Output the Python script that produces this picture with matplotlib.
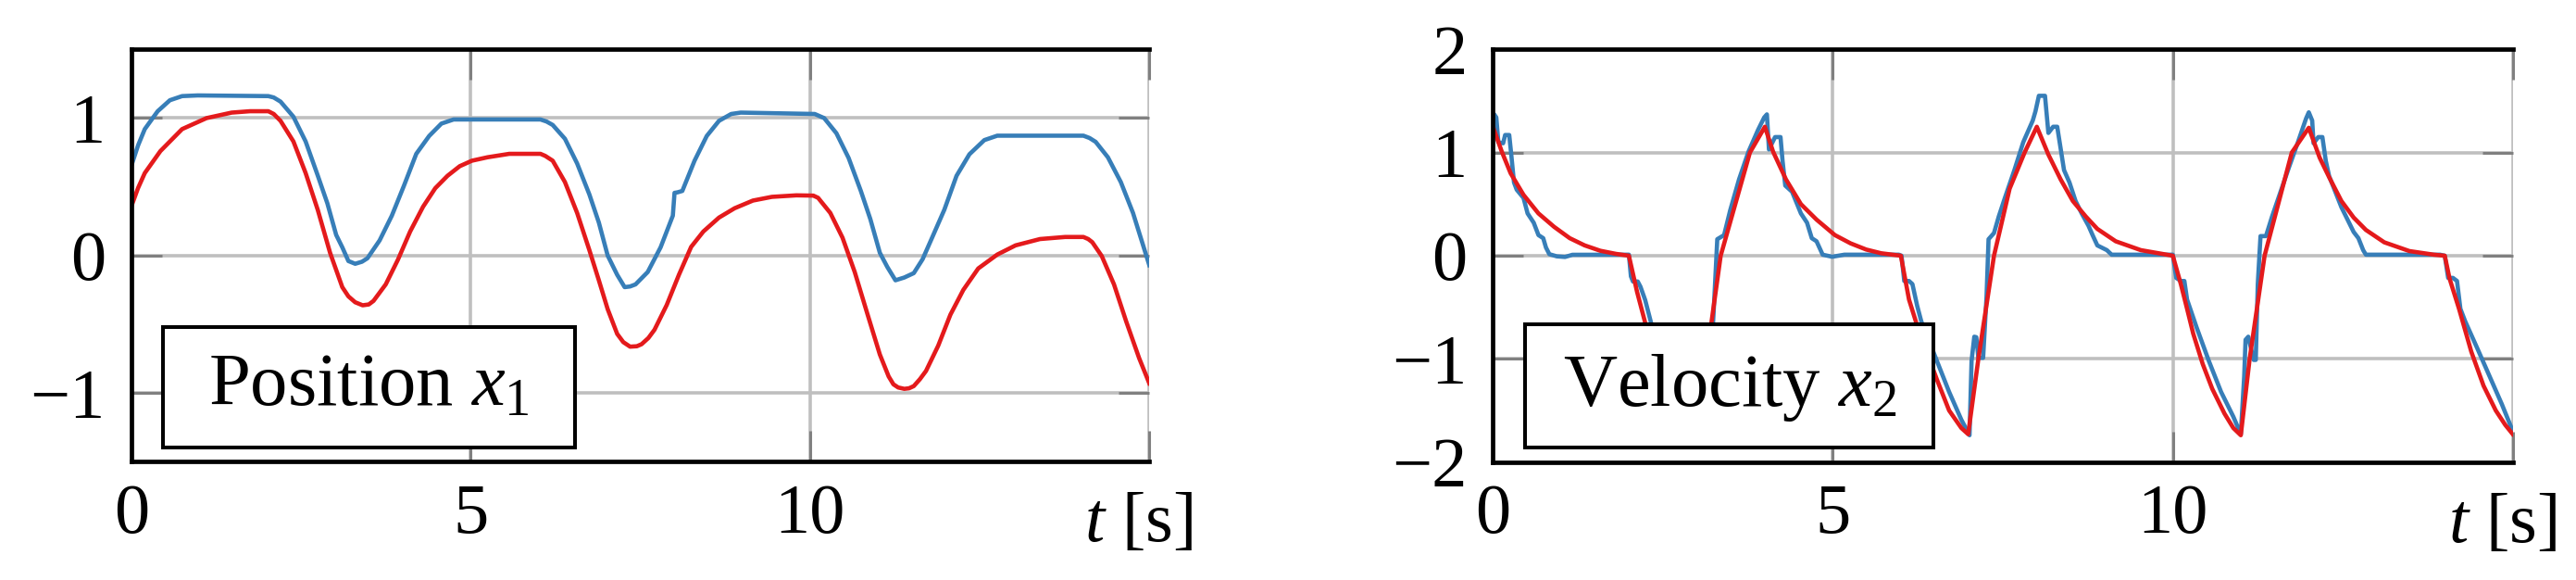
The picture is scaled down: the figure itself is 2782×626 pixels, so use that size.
import matplotlib
matplotlib.use('Agg')
import matplotlib.pyplot as plt
from matplotlib.patches import Rectangle

plt.rcParams['font.family'] = ['Liberation Serif', 'DejaVu Serif']
plt.rcParams['mathtext.fontset'] = 'custom'
plt.rcParams['mathtext.rm'] = 'Liberation Serif'
plt.rcParams['mathtext.it'] = 'Liberation Serif:italic'
plt.rcParams['axes.unicode_minus'] = True

# ---------------- data ----------------
# Position x1 (blue)
t_pos_blue = [0.0, 0.1, 0.2, 0.39, 0.57, 0.75, 0.98, 2.02, 2.1, 2.2, 2.39, 2.57, 2.75, 2.89,
              3.02, 3.11, 3.2, 3.3, 3.4, 3.48, 3.66, 3.84, 4.02, 4.2, 4.39, 4.57, 4.75, 5.02,
              6.03, 6.12, 6.21, 6.39, 6.57, 6.75, 6.89, 7.02, 7.16, 7.27, 7.35, 7.43, 7.61, 7.8, 7.98,
              8.005, 8.05, 8.12, 8.3, 8.48, 8.66, 8.84, 8.98, 10.07, 10.21, 10.39, 10.57,
              10.75, 10.89, 11.03, 11.14, 11.26, 11.39, 11.53, 11.66, 11.8, 11.98, 12.16,
              12.35, 12.57, 12.76, 14.03, 14.12, 14.21, 14.39, 14.58, 14.76, 15.0]
pos_blue = [0.65, 0.80, 0.92, 1.05, 1.13, 1.16, 1.165, 1.16, 1.15, 1.12, 1.01, 0.83, 0.58, 0.38,
            0.15, 0.06, -0.04, -0.06, -0.045, -0.02, 0.11, 0.29, 0.51, 0.74, 0.87, 0.96, 0.99, 0.99,
            0.99, 0.975, 0.95, 0.85, 0.67, 0.445, 0.24, 0.0, -0.14, -0.23, -0.225, -0.21, -0.12, 0.06, 0.29,
            0.456, 0.46, 0.47, 0.69, 0.87, 0.98, 1.03, 1.04, 1.03, 1.0, 0.89, 0.71,
            0.47, 0.265, 0.02, -0.083, -0.18, -0.16, -0.128, -0.027, 0.13, 0.333, 0.58,
            0.737, 0.84, 0.872, 0.872, 0.855, 0.827, 0.715, 0.535, 0.31, -0.07]

# Position x1 (red)
t_pos_red = [0.0, 0.1, 0.2, 0.43, 0.75, 1.11, 1.48, 1.75, 2.02, 2.1, 2.2, 2.39, 2.57, 2.75, 2.93,
             3.11, 3.2, 3.3, 3.41, 3.5, 3.57, 3.66, 3.75, 3.93, 4.11, 4.3, 4.48, 4.66, 4.84, 5.02, 5.25,
             5.57, 6.03, 6.1, 6.21, 6.39, 6.57, 6.75, 6.89, 7.02, 7.16, 7.25, 7.35, 7.45, 7.52, 7.62, 7.71,
             7.89, 8.07, 8.25, 8.43, 8.66, 8.89, 9.16, 9.44, 9.8, 10.05, 10.12, 10.3,
             10.48, 10.66, 10.85, 11.03, 11.16, 11.23, 11.3, 11.39, 11.46, 11.53, 11.62, 11.71, 11.89, 12.07,
             12.26, 12.48, 12.76, 13.03, 13.39, 13.76, 14.03, 14.1, 14.16, 14.3, 14.48, 14.66,
             14.85, 15.0]
pos_red = [0.355, 0.49, 0.60, 0.76, 0.92, 1.0, 1.04, 1.05, 1.05, 1.03, 0.98, 0.83, 0.60, 0.33, 0.02,
           -0.23, -0.297, -0.34, -0.362, -0.356, -0.33, -0.27, -0.21, -0.03, 0.175, 0.355, 0.49, 0.58, 0.65, 0.69, 0.715,
           0.74, 0.74, 0.725, 0.69, 0.535, 0.31, 0.04, -0.18, -0.39, -0.57, -0.63, -0.663, -0.66, -0.645, -0.6, -0.54,
           -0.36, -0.14, 0.063, 0.175, 0.276, 0.344, 0.40, 0.427, 0.438, 0.436, 0.42, 0.31,
           0.13, -0.12, -0.43, -0.72, -0.88, -0.937, -0.96, -0.97, -0.966, -0.95, -0.9, -0.84, -0.656, -0.43,
           -0.25, -0.094, 0.007, 0.074, 0.12, 0.135, 0.135, 0.12, 0.097, -0.004, -0.21, -0.48,
           -0.746, -0.93]

# Velocity x2 (blue)
t_vel_blue = [0.0, 0.02, 0.05, 0.08, 0.15, 0.18, 0.24, 0.27, 0.31, 0.35, 0.45, 0.51, 0.6,
              0.67, 0.74, 0.78, 0.83, 0.94, 1.06, 1.17, 2.0, 2.03, 2.06, 2.13, 2.17, 2.24,
              2.33, 2.5, 2.7, 2.88, 3.0, 3.03, 3.07, 3.10, 3.13, 3.21, 3.25, 3.30, 3.40,
              3.49, 3.62, 3.76, 3.9, 3.99, 4.03, 4.06, 4.15, 4.23, 4.26, 4.3, 4.4, 4.53,
              4.62, 4.69, 4.76, 4.85, 4.99, 5.17, 5.97, 6.01, 6.05, 6.12, 6.17, 6.24, 6.3,
              6.53, 6.71, 6.89, 7.01, 7.04, 7.08, 7.11, 7.14, 7.21, 7.26, 7.29, 7.37, 7.44,
              7.53, 7.67, 7.8, 7.94, 7.98, 8.03, 8.12, 8.17, 8.24, 8.3, 8.35, 8.4, 8.48,
              8.57, 8.66, 8.76, 8.82, 8.89, 9.03, 9.1, 10.0, 10.05, 10.12, 10.17, 10.21,
              10.35, 10.53, 10.71, 10.89, 11.0, 11.05, 11.07, 11.11, 11.14, 11.19, 11.22,
              11.25, 11.29, 11.37, 11.46, 11.57, 11.71, 11.84, 11.96, 12.0, 12.05, 12.07,
              12.14, 12.2, 12.25, 12.3, 12.39, 12.48, 12.57, 12.66, 12.73, 12.8, 12.84,
              13.93, 14.0, 14.05, 14.12, 14.18, 14.23, 14.3, 14.48, 14.66, 14.84, 15.0]
vel_blue = [1.33, 1.37, 1.34, 1.10, 1.09, 1.17, 1.17, 0.98, 0.71, 0.64, 0.56, 0.41, 0.32,
            0.20, 0.17, 0.08, 0.015, -0.006, -0.012, 0.009, 0.01, -0.2, -0.25, -0.25, -0.30, -0.43,
            -0.66, -0.97, -1.32, -1.58, -1.74, -1.02, -0.79, -0.79, -0.99, -0.99, -0.5, 0.16, 0.2,
            0.44, 0.74, 1.01, 1.22, 1.34, 1.37, 1.03, 1.15, 1.15, 0.92, 0.68, 0.62, 0.41,
            0.32, 0.17, 0.14, 0.01, -0.01, 0.01, 0.01, 0.0, -0.245, -0.245, -0.275, -0.485, -0.635,
            -1.02, -1.32, -1.59, -1.74, -1.02, -0.785, -0.79, -0.99, -0.99, -0.4, 0.16, 0.22, 0.38,
            0.56, 0.83, 1.10, 1.31, 1.40, 1.55, 1.55, 1.19, 1.25, 1.25, 1.04, 0.83, 0.71,
            0.53, 0.41, 0.29, 0.2, 0.1, 0.054, 0.01, 0.01, -0.215, -0.245, -0.245, -0.425,
            -0.695, -1.02, -1.32, -1.56, -1.73, -1.17, -0.815, -0.785, -0.87, -1.01, -1.01,
            -0.275, 0.19, 0.19, 0.38, 0.59, 0.86, 1.10, 1.33, 1.39, 1.31, 1.09,
            1.15, 1.15, 0.92, 0.77, 0.62, 0.47, 0.35, 0.23, 0.17, 0.054, 0.01,
            0.01, 0.0, -0.215, -0.215, -0.245, -0.515, -0.635, -0.9, -1.17, -1.44, -1.70]

# Velocity x2 (red)
t_vel_red = [0.0, 0.13, 0.26, 0.45, 0.67, 0.9, 1.13, 1.35, 1.58, 1.81, 2.0,
             2.12, 2.26, 2.44, 2.58, 2.76, 2.89, 3.0, 3.14, 3.35, 3.78, 4.0,
             4.12, 4.31, 4.53, 4.76, 5.03, 5.26, 5.49, 5.71, 6.0,
             6.12, 6.26, 6.53, 6.71, 6.89, 6.99, 7.14, 7.37, 7.6, 7.82, 8.0,
             8.17, 8.35, 8.53, 8.72, 8.89, 9.16, 9.53, 10.0,
             10.12, 10.21, 10.3, 10.44, 10.58, 10.76, 10.89, 11.0, 11.13, 11.35, 11.75, 12.0,
             12.16, 12.3, 12.48, 12.66, 12.84, 13.11, 13.48, 13.84, 14.0,
             14.07, 14.21, 14.39, 14.57, 14.75, 14.89, 15.0]
vel_red = [1.25, 1.01, 0.80, 0.59, 0.41, 0.28, 0.17, 0.10, 0.048, 0.018, 0.0,
           -0.35, -0.70, -1.06, -1.29, -1.53, -1.67, -1.74, -1.0, 0.0, 1.0, 1.25,
           1.01, 0.74, 0.50, 0.35, 0.2, 0.12, 0.06, 0.024, 0.0,
           -0.425, -0.72, -1.2, -1.5, -1.67, -1.73, -1.0, 0.0, 0.65, 1.0, 1.25,
           0.98, 0.74, 0.53, 0.38, 0.26, 0.14, 0.054, 0.0,
           -0.28, -0.515, -0.755, -1.05, -1.29, -1.53, -1.67, -1.74, -1.0, 0.0, 1.0, 1.24,
           0.95, 0.76, 0.53, 0.37, 0.25, 0.13, 0.045, 0.01, 0.0,
           -0.22, -0.515, -0.93, -1.26, -1.5, -1.64, -1.73]

x_ticks = [0, 5, 10, 15]
x_ticklabels = ['0', '5', '10', '']
pos_yticks = [-1, 0, 1]
vel_yticks = [-2, -1, 0, 1, 2]

BLUE = '#377eb8'
RED = '#e41a1c'
FS = 55
FS_BOX = 58

W, H = 2782, 626
fig = plt.figure(figsize=(W / 100, H / 100), dpi=100)
ax1 = fig.add_axes([141.7 / W, 1 - 498.3 / H, 1099.5 / W, 445.0 / H])
ax2 = fig.add_axes([1612.3 / W, 1 - 498.7 / H, 1101.4 / W, 445.4 / H])


def style(ax, yticks, ylim):
    ax.set_xlim(0, 15)
    ax.set_ylim(*ylim)
    ax.set_xticks(x_ticks)
    ax.set_xticklabels(x_ticklabels)
    ax.set_yticks(yticks)
    ax.grid(True, color='#bfbfbf', lw=2.6)
    ax.set_axisbelow(True)
    ax.tick_params(direction='in', length=24, width=2.2, color='#808080',
                   top=True, right=True, labelsize=FS)
    ax.tick_params(axis='x', pad=17)
    ax.tick_params(axis='y', pad=20)
    for s in ['left', 'top', 'bottom']:
        ax.spines[s].set_linewidth(3.4)
        ax.spines[s].set_color('black')
    ax.spines['right'].set_visible(False)
    ax.text(1.043, -0.193, '$t$ [s]', transform=ax.transAxes, ha='right',
            va='baseline', fontsize=FS)


def label_box(ax, x0, y0, x1, y1, text, base):
    ax.add_patch(Rectangle((x0, y0), x1 - x0, y1 - y0, transform=ax.transAxes,
                           facecolor='white', edgecolor='black', lw=2.9, zorder=5,
                           clip_on=False))
    ax.text((x0 + x1) / 2, base, text, transform=ax.transAxes, ha='center',
            va='baseline', fontsize=FS_BOX, zorder=6)


ax1.plot(t_pos_blue, pos_blue, color=BLUE, lw=3.3)
ax1.plot(t_pos_red, pos_red, color=RED, lw=3.3)
style(ax1, pos_yticks, (-1.5, 1.5))
label_box(ax1, 0.0309, 0.0337, 0.436, 0.327, 'Position $x_1$', 0.1348)

ax2.plot(t_vel_blue, vel_blue, color=BLUE, lw=3.3)
ax2.plot(t_vel_red, vel_red, color=RED, lw=3.3)
style(ax2, vel_yticks, (-2, 2))
label_box(ax2, 0.0318, 0.0346, 0.432, 0.334, 'Velocity $x_2$', 0.1356)

fig.savefig('out.png', dpi=100)
